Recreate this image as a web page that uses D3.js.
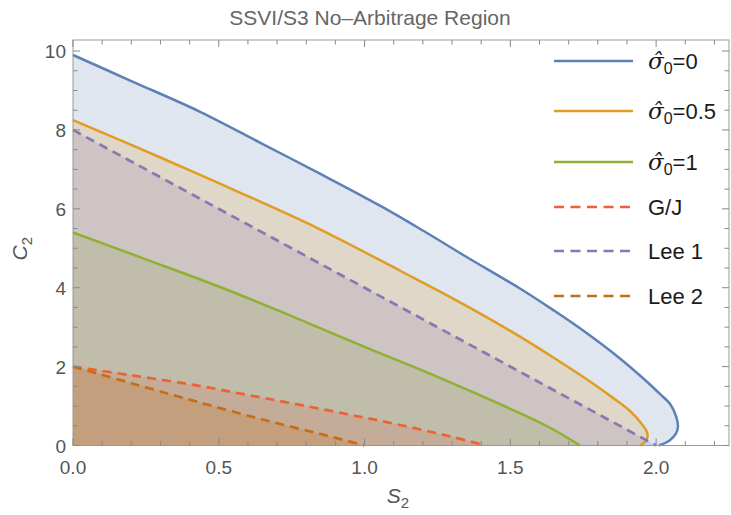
<!DOCTYPE html>
<html><head><meta charset="utf-8">
<script src="https://cdn.jsdelivr.net/npm/d3@7"></script>
<style>
body{margin:0;background:#fff;}
text{font-family:"Liberation Sans",Arial,sans-serif;}
</style>
</head><body>
<svg id="chart" width="731" height="515"></svg>
<script>
// ---- data ----
const title = "SSVI/S3 No\u2013Arbitrage Region";
const xTicks = [0, 0.5, 1.0, 1.5, 2.0];
const yTicks = [0, 2, 4, 6, 8, 10];

const sigma0_S = [0, 0.2, 0.436, 0.641, 0.85, 1.053, 1.2, 1.35, 1.533, 1.65, 1.739, 1.877, 1.962, 2.014, 2.048, 2.068, 2.075, 2.068, 2.045, 2.01];
const sigma0_C = [9.90, 9.24, 8.46, 7.68, 6.88, 6.08, 5.45, 4.78, 3.98, 3.42, 2.97, 2.20, 1.66, 1.30, 1.05, 0.75, 0.48, 0.30, 0.12, 0];

const sigma05_S = [0, 0.2, 0.436, 0.561, 0.8, 1.053, 1.122, 1.259, 1.4, 1.533, 1.65, 1.762, 1.85, 1.91, 1.95, 1.968, 1.97, 1.96, 1.945];
const sigma05_C = [8.25, 7.62, 6.86, 6.45, 5.65, 4.70, 4.43, 3.90, 3.33, 2.76, 2.22, 1.68, 1.22, 0.88, 0.55, 0.35, 0.20, 0.08, 0];

const sigma1_S = [0, 0.25, 0.5, 0.75, 1.0, 1.25, 1.5, 1.636, 1.739];
const sigma1_C = [5.40, 4.72, 4.03, 3.28, 2.50, 1.74, 0.93, 0.45, 0];

const gj_S = [0, 0.2, 0.419, 0.6, 0.779, 0.95, 1.122, 1.3, 1.414];
const gj_C = [2.0, 1.78, 1.53, 1.28, 1.03, 0.78, 0.52, 0.22, 0];

const lee1_S = [0, 2.0];
const lee1_C = [8.0, 0];

const lee2_S = [0, 0.2, 0.42, 0.65, 0.85, 1.0];
const lee2_C = [2.0, 1.58, 1.12, 0.66, 0.29, 0];

const seriesLabels = ["0", "0.5", "1", "G/J", "Lee 1", "Lee 2"];
const seriesIsSigma = [true, true, true, false, false, false];
const seriesDashed = [false, false, false, true, true, true];
const seriesColors = ["#5E81B5", "#E19C24", "#8FB032", "#EB6235", "#8778B3", "#C56E1A"];
const seriesS = [sigma0_S, sigma05_S, sigma1_S, gj_S, lee1_S, lee2_S];
const seriesC = [sigma0_C, sigma05_C, sigma1_C, gj_C, lee1_C, lee2_C];

// ---- layout ----
const W = 731, H = 515;
const m = {left: 73, right: 2, top: 40, bottom: 69.5};
const svg = d3.select("#chart");
const x = d3.scaleLinear().domain([0, 2.25]).range([m.left, W - m.right]);
const y = d3.scaleLinear().domain([0, 10.28]).range([H - m.bottom, m.top]);

const series = seriesS.map((s, i) => s.map((v, j) => [v, seriesC[i][j]]));

const line = d3.line().x(d => x(d[0])).y(d => y(d[1])).curve(d3.curveCatmullRom.alpha(0.5));

// fills
const gFill = svg.append("g");
series.forEach((pts, i) => {
  const d = line(pts);
  gFill.append("path")
    .attr("d", "M" + x(0) + "," + y(0) + "L" + d.slice(1) + "Z")
    .attr("fill", seriesColors[i])
    .attr("fill-opacity", 0.2)
    .attr("stroke", "none");
});

// lines
const gLines = svg.append("g");
series.forEach((pts, i) => {
  gLines.append("path")
    .attr("d", line(pts))
    .attr("fill", "none")
    .attr("stroke", seriesColors[i])
    .attr("stroke-width", seriesDashed[i] ? 2.7 : 2.5)
    .attr("stroke-dasharray", seriesDashed[i] ? "9,6" : null)
    .attr("stroke-linejoin", "round");
});

// frame + ticks
const frameColor = "#999";
const tickColor = "#888";
const labelColor = "#555";
svg.append("rect")
  .attr("x", x(0)).attr("y", m.top)
  .attr("width", x(2.25) - x(0)).attr("height", y(0) - m.top)
  .attr("fill", "none").attr("stroke", frameColor).attr("stroke-width", 1);

const xMinor = d3.range(0, 2.2501, 0.1);
const yMinor = d3.range(0, 10.2801, 0.5);
const isMajorX = v => xTicks.some(t => Math.abs(t - v) < 1e-6);
const isMajorY = v => yTicks.some(t => Math.abs(t - v) < 1e-6);

const gt = svg.append("g").attr("stroke", tickColor).attr("stroke-width", 1);
xMinor.forEach(v => {
  const L = isMajorX(v) ? 7 : 4.5;
  gt.append("line").attr("x1", x(v)).attr("x2", x(v)).attr("y1", y(0)).attr("y2", y(0) - L);
  gt.append("line").attr("x1", x(v)).attr("x2", x(v)).attr("y1", m.top).attr("y2", m.top + L);
});
yMinor.forEach(v => {
  const L = isMajorY(v) ? 7 : 4.5;
  gt.append("line").attr("y1", y(v)).attr("y2", y(v)).attr("x1", x(0)).attr("x2", x(0) + L);
  gt.append("line").attr("y1", y(v)).attr("y2", y(v)).attr("x1", x(2.25)).attr("x2", x(2.25) - L);
});

// tick labels
const fmtX = d3.format(".1f");
svg.append("g").selectAll("text").data(xTicks).join("text")
  .attr("x", d => x(d)).attr("y", y(0) + 28)
  .attr("text-anchor", "middle").attr("font-size", 19).attr("fill", labelColor)
  .text(d => fmtX(d));
svg.append("g").selectAll("text").data(yTicks).join("text")
  .attr("x", x(0) - 7).attr("y", d => y(d) + 7)
  .attr("text-anchor", "end").attr("font-size", 19).attr("fill", labelColor)
  .text(d => d);

// title
svg.append("text").attr("x", 370).attr("y", 25)
  .attr("text-anchor", "middle").attr("font-size", 21).attr("fill", "#666")
  .text(title);

// axis labels
const xl = svg.append("text").attr("x", (x(0) + x(2.25)) / 2 - 3).attr("y", 503)
  .attr("text-anchor", "middle").attr("font-size", 21).attr("fill", labelColor);
xl.append("tspan").attr("font-style", "italic").text("S");
xl.append("tspan").attr("font-size", 15).attr("dy", 5).text("2");

const yl = svg.append("text")
  .attr("transform", `translate(27,${(m.top + y(0)) / 2 + 6}) rotate(-90)`)
  .attr("text-anchor", "middle").attr("font-size", 21).attr("fill", labelColor);
yl.append("tspan").attr("font-style", "italic").text("C");
yl.append("tspan").attr("font-size", 15).attr("dy", 5).text("2");

// legend
const legX1 = 554, legX2 = 633, legTX = 648;
const legRowsY = [61, 111, 162, 207, 251, 296];
const gl = svg.append("g");
seriesLabels.forEach((lab, i) => {
  const cy = legRowsY[i];
  gl.append("line").attr("x1", legX1).attr("x2", legX2).attr("y1", cy).attr("y2", cy)
    .attr("stroke", seriesColors[i]).attr("stroke-width", seriesDashed[i] ? 2.7 : 2.5)
    .attr("stroke-dasharray", seriesDashed[i] ? "10,6.5" : null);
  const t = gl.append("text").attr("x", legTX).attr("y", cy + 8).attr("font-size", 22).attr("fill", "#1a1a1a");
  if (seriesIsSigma[i]) {
    t.append("tspan").attr("font-style", "italic").attr("font-family", "DejaVu Serif").attr("font-size", 23).text("\u03C3\u0302");
    t.append("tspan").attr("font-size", 16).attr("dy", 5).text("0");
    t.append("tspan").attr("dy", -5).text("=" + lab);
  } else {
    t.text(lab);
  }
});
</script>
</body></html>
